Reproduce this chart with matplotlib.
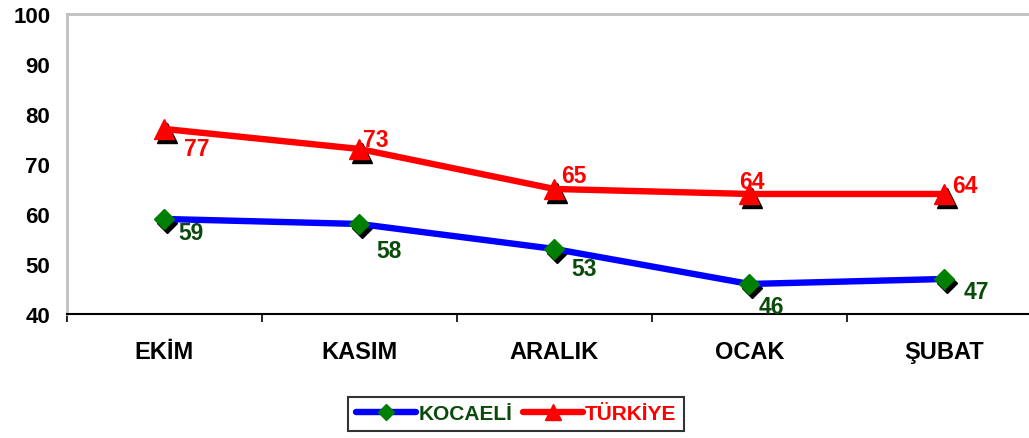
import matplotlib
matplotlib.use("Agg")
import matplotlib.pyplot as plt
import matplotlib.transforms as mtransforms

months = ["EKİM", "KASIM", "ARALIK", "OCAK", "ŞUBAT"]
kocaeli = [59, 58, 53, 46, 47]
turkiye = [77, 73, 65, 64, 64]

# label offsets in points (hand placed like the original)
kocaeli_off = [(19, -10), (21, -19), (21, -14), (16, -16), (23, -9)]
turkiye_off = [(23, -14), (12, 7), (14, 10), (2, 9), (15, 6)]

plt.rcParams['font.family'] = ['Liberation Sans', 'DejaVu Sans']

fig = plt.figure(figsize=(10.29, 4.39), dpi=100)
ax = fig.add_axes([0.0651, 0.2825, 0.9475, 0.6834])

x = list(range(len(months)))
shadow = mtransforms.offset_copy(ax.transData, fig=fig, x=3, y=-4, units='dots')

ax.plot(x, kocaeli, linestyle='none', marker='D', markersize=10,
        color='black', transform=shadow, zorder=2)
ax.plot(x, turkiye, linestyle='none', marker='^', markersize=15,
        color='black', transform=shadow, zorder=2)

ax.plot(x, kocaeli, color='#0000ff', linewidth=4.6, marker='D', markersize=10,
        markerfacecolor='#008000', markeredgecolor='#008000',
        label='KOCAELİ', zorder=3, solid_capstyle='round')
ax.plot(x, turkiye, color='#ff0000', linewidth=4.6, marker='^', markersize=15,
        markerfacecolor='#ff0000', markeredgecolor='#ff0000',
        label='TÜRKİYE', zorder=3, solid_capstyle='round')

for i, v in enumerate(kocaeli):
    ax.annotate(str(v), (i, v), xytext=kocaeli_off[i], textcoords='offset points',
                ha='center', va='center', fontsize=16.5, fontweight='bold',
                color='#0a4a0a', zorder=4)
for i, v in enumerate(turkiye):
    ax.annotate(str(v), (i, v), xytext=turkiye_off[i], textcoords='offset points',
                ha='center', va='center', fontsize=16.5, fontweight='bold',
                color='#ff0000', zorder=4)

ax.set_xlim(-0.5, len(months) - 0.5)
ax.set_ylim(40, 100)
ax.set_yticks(range(40, 101, 10))
ax.set_xticks(x)
ax.set_xticklabels(months, fontsize=17, fontweight='bold')
ax.set_xticks([i - 0.5 for i in range(len(months) + 1)], minor=True)
ax.tick_params(axis='x', which='major', length=0, pad=19)
ax.tick_params(axis='x', which='minor', length=6, width=1.2, direction='out')
ax.tick_params(axis='y', length=0, pad=12, labelsize=16)
for lab in ax.get_yticklabels():
    lab.set_fontweight('bold')

ax.spines['left'].set_color('#c0c0c0')
ax.spines['top'].set_color('#c0c0c0')
ax.spines['right'].set_color('#c0c0c0')
ax.spines['left'].set_linewidth(2)
ax.spines['top'].set_linewidth(2)
ax.spines['bottom'].set_color('black')
ax.spines['bottom'].set_linewidth(1.5)

leg = fig.legend(loc='center', bbox_to_anchor=(0.5015, 0.0547), ncol=2,
                 prop={'weight': 'bold', 'size': 15}, markerscale=0.8,
                 frameon=True, fancybox=False, handlelength=2.9,
                 handletextpad=0.1, columnspacing=0.5, borderpad=0.35)
leg.get_frame().set_edgecolor('black')
leg.get_frame().set_linewidth(1.5)
leg.get_texts()[0].set_color('#0a4a0a')
leg.get_texts()[1].set_color('#ff0000')

fig.savefig("out.png", dpi=100)
